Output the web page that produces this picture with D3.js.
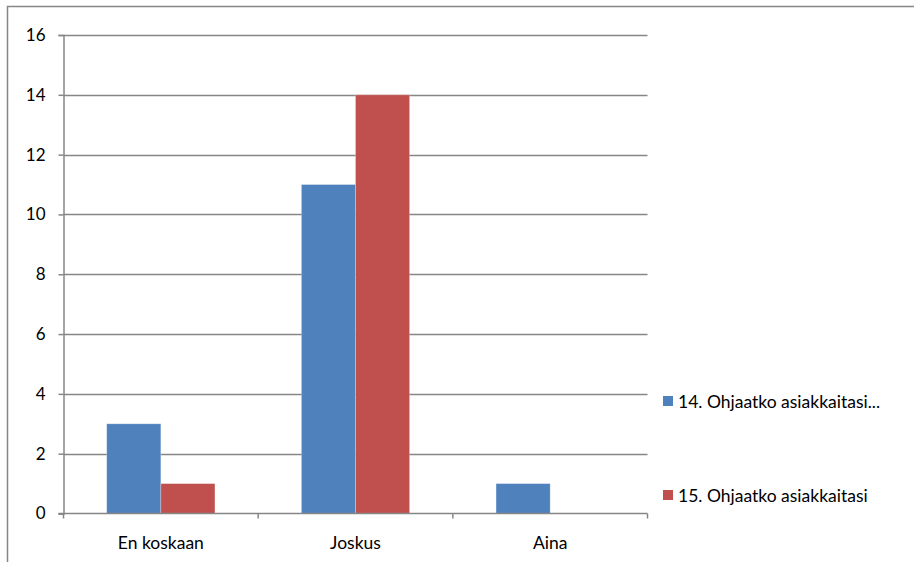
<!DOCTYPE html>
<html>
<head>
<meta charset="utf-8">
<script src="https://cdn.jsdelivr.net/npm/d3@7"></script>
<style>
  html, body { margin: 0; padding: 0; background: #fff; }
  svg { display: block; }
  text { font-family: Lato, "Open Sans", sans-serif; fill: #000; }
</style>
</head>
<body>
<svg id="chart" width="914" height="562"></svg>
<script>
// Survey answers per category for two questions
const categories = ["En koskaan", "Joskus", "Aina"];
const seriesNames = ["14. Ohjaatko asiakkaitasi...", "15. Ohjaatko asiakkaitasi"];
const series14 = [3, 11, 1];
const series15 = [1, 14, 0];
const yTicks = [0, 2, 4, 6, 8, 10, 12, 14, 16];
const colors = ["#4F81BD", "#C0504D"];

const svg = d3.select("#chart");

// outer chart frame (extends past the right and bottom edges)
svg.append("rect")
  .attr("x", 7.5).attr("y", 6.5)
  .attr("width", 920).attr("height", 580)
  .attr("fill", "none").attr("stroke", "#868686").attr("stroke-width", 1.5);

const plotL = 63.5, plotR = 647.5, plotT = 35, plotB = 513.5;

const x0 = d3.scaleBand().domain(categories).range([plotL, plotR]).padding(0);
const bw = x0.bandwidth();
const x1 = d3.scaleBand().domain(seriesNames).range([bw * 0.222, bw * 0.778]).padding(0);
const y = d3.scaleLinear().domain([0, 16]).range([plotB, plotT]);

const grid = "#868686";

// horizontal gridlines
svg.append("g").selectAll("line").data(yTicks.filter(d => d > 0)).join("line")
  .attr("x1", plotL).attr("x2", plotR)
  .attr("y1", d => Math.round(y(d)) + 0.5).attr("y2", d => Math.round(y(d)) + 0.5)
  .attr("stroke", grid).attr("stroke-width", 1.5);

// bars
const rows = categories.map((c, i) => ({ cat: c, vals: [series14[i], series15[i]] }));
svg.append("g").selectAll("g").data(rows).join("g")
  .attr("transform", d => `translate(${x0(d.cat)},0)`)
  .selectAll("rect").data(d => d.vals.map((v, j) => ({ v, j })).filter(e => e.v > 0)).join("rect")
  .attr("x", e => x1(seriesNames[e.j]))
  .attr("width", x1.bandwidth())
  .attr("y", e => y(e.v))
  .attr("height", e => y(0) - y(e.v))
  .attr("fill", e => colors[e.j])
  .attr("stroke", "rgba(255,255,255,0.35)").attr("stroke-width", 0.8);

// y axis
const yAxis = svg.append("g").attr("transform", `translate(${plotL},0)`)
  .call(d3.axisLeft(y).tickValues(yTicks).tickSize(5).tickPadding(13).tickFormat(d3.format("d")));
yAxis.select(".domain").attr("stroke", grid).attr("stroke-width", 1.5);
yAxis.selectAll(".tick line").attr("stroke", grid).attr("stroke-width", 1.5);
yAxis.selectAll(".tick text").style("font-size", "17px").attr("font-family", "Lato, sans-serif").attr("fill", "#000");

// x axis
const xAxis = svg.append("g").attr("transform", `translate(0,${plotB})`);
xAxis.append("line").attr("x1", plotL - 5).attr("x2", plotR)
  .attr("stroke", grid).attr("stroke-width", 1.5);
xAxis.selectAll("line.tk").data(categories.map(c => x0(c)).concat([plotR])).join("line")
  .attr("class", "tk")
  .attr("x1", d => d).attr("x2", d => d).attr("y1", 0).attr("y2", 5)
  .attr("stroke", grid).attr("stroke-width", 1.5);
xAxis.selectAll("text").data(categories).join("text")
  .attr("x", d => x0(d) + bw / 2).attr("y", 35)
  .attr("text-anchor", "middle").style("font-size", "17.5px")
  .text(d => d);

// legend
const legend = svg.append("g").selectAll("g").data(seriesNames).join("g")
  .attr("transform", (d, i) => `translate(663,${396 + i * 94})`);
legend.append("rect").attr("width", 10).attr("height", 10).attr("fill", (d, i) => colors[i]);
legend.append("text").attr("x", 15).attr("y", 11.5).style("font-size", "17.5px").text(d => d);
</script>
</body>
</html>
